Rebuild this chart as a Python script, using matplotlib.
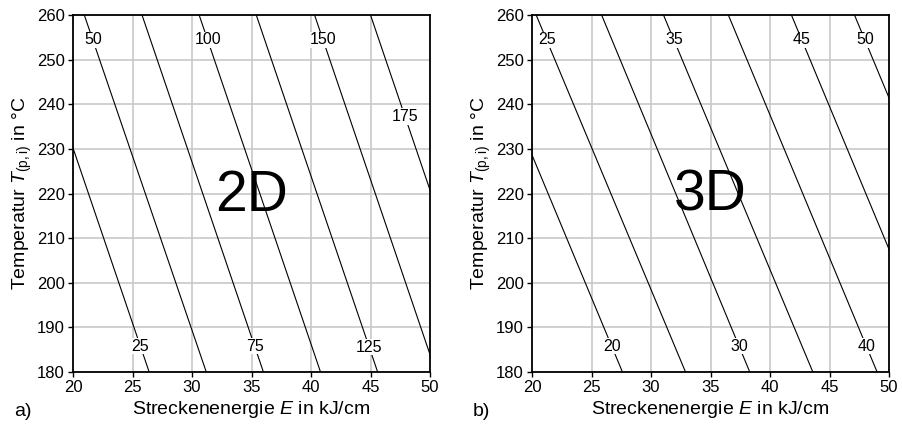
import numpy as np
import matplotlib
matplotlib.use("Agg")
import matplotlib.pyplot as plt

plt.rcParams['font.family'] = ['Liberation Sans', 'DejaVu Sans']
plt.rcParams['mathtext.fontset'] = 'custom'
plt.rcParams['mathtext.rm'] = 'Liberation Sans'
plt.rcParams['mathtext.it'] = 'Liberation Sans:italic'

# temperature range of the diagrams
T_top = 260
T_bottom = 180

# 2D: contour values and their energy E at T=260 and T=180
levels_2d = [25, 50, 75, 100, 125, 150, 175]
E_top_2d = [16.2, 20.95, 25.8, 30.6, 35.4, 40.3, 45.0]
E_bottom_2d = [26.4, 31.2, 36.0, 40.8, 45.6, 50.5, 55.2]
# labels: level -> temperature where the label sits
labels_2d = {50: 254.4, 100: 254.4, 150: 254.4, 175: 237.2, 25: 185.8, 75: 185.8, 125: 185.6}

# 3D
levels_3d = [20, 25, 30, 35, 40, 45, 50]
E_top_3d = [15.1, 20.35, 25.85, 31.05, 36.5, 41.8, 47.1]
E_bottom_3d = [27.6, 32.9, 38.3, 43.6, 49.0, 54.3, 59.6]
labels_3d = {25: 254.4, 35: 254.4, 45: 254.4, 50: 254.4, 20: 185.8, 30: 185.8, 40: 185.8}

xticks = [20, 25, 30, 35, 40, 45, 50]
yticks = [180, 190, 200, 210, 220, 230, 240, 250, 260]

fig = plt.figure(figsize=(9.02, 4.24), dpi=100)


def draw_panel(ax, levels, e_top, e_bottom, labels, big, tag):
    for lev, e0, e1 in zip(levels, e_top, e_bottom):
        ax.plot([e0, e1], [T_top, T_bottom], color='black', lw=0.8, zorder=3)
        if lev in labels:
            t = labels[lev]
            e = e0 + (e1 - e0) * (T_top - t) / (T_top - T_bottom)
            ax.text(e, t, str(lev), ha='center', va='center', fontsize=11.5, zorder=4,
                    bbox=dict(facecolor='white', edgecolor='none', pad=0.6))
    ax.set_xlim(20, 50)
    ax.set_ylim(180, 260)
    ax.set_xticks(xticks)
    ax.set_yticks(yticks)
    ax.grid(True, color='#c8c8c8', lw=1.2, zorder=1)
    ax.set_axisbelow(True)
    for s in ax.spines.values():
        s.set_linewidth(1.3)
        s.set_zorder(5)
    ax.tick_params(direction='out', length=3.5, width=1.0, labelsize=12, pad=2.5)
    ax.set_xlabel(r'Streckenenergie $E$ in kJ/cm', fontsize=14, labelpad=3)
    ax.set_ylabel(r'Temperatur $T_{\mathrm{(p,i)}}$ in °C', fontsize=14, labelpad=2)
    ax.text(35, 219.5, big, ha='center', va='center', fontsize=41, zorder=2)
    ax.text(-0.165, -0.11, tag, transform=ax.transAxes, ha='left', va='center', fontsize=14)


ax1 = fig.add_axes([73 / 902, 52 / 424, 357 / 902, 357 / 424])
draw_panel(ax1, levels_2d, E_top_2d, E_bottom_2d, labels_2d, '2D', 'a)')

ax2 = fig.add_axes([532 / 902, 52 / 424, 357 / 902, 357 / 424])
draw_panel(ax2, levels_3d, E_top_3d, E_bottom_3d, labels_3d, '3D', 'b)')

fig.savefig('out.png', dpi=100)
